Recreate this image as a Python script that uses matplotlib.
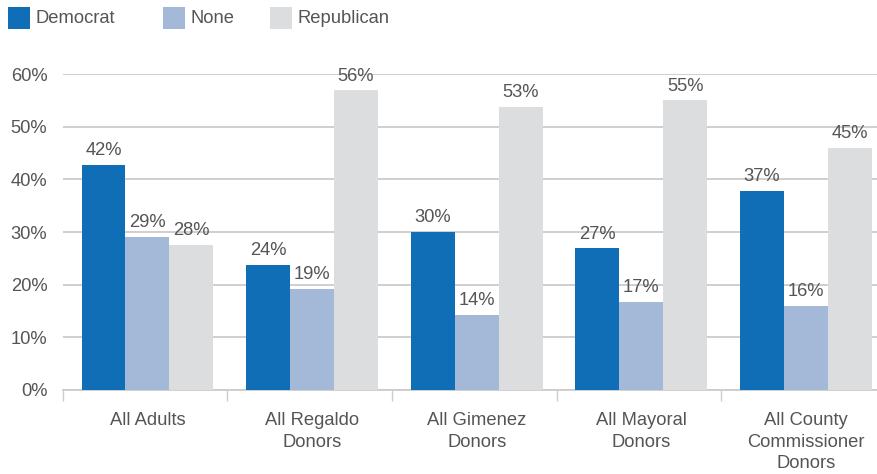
import numpy as np
import matplotlib.pyplot as plt
from matplotlib.patches import Rectangle

plt.rcParams['font.family'] = ['Liberation Sans', 'DejaVu Sans']

categories = ['All Adults', 'All Regaldo\nDonors', 'All Gimenez\nDonors',
              'All Mayoral\nDonors', 'All County\nCommissioner\nDonors']
series = ['Democrat', 'None', 'Republican']
democrat = [42.7, 23.7, 30.0, 26.9, 37.8]
none = [29.0, 19.2, 14.2, 16.7, 15.9]
republican = [27.5, 56.9, 53.7, 55.0, 45.9]
democrat_lbl = ['42%', '24%', '30%', '27%', '37%']
none_lbl = ['29%', '19%', '14%', '17%', '16%']
republican_lbl = ['28%', '56%', '53%', '55%', '45%']
yticks = [0, 10, 20, 30, 40, 50, 60]

colors = ['#106eb7', '#a4b8d8', '#dcdddf']
text_color = '#555555'
grid_color = '#cccccc'
fs = 13.2
W, H = 878, 474

fig = plt.figure(figsize=(W / 100, H / 100), dpi=100)
# axes runs a little past the right edge, as in the reference
ax = fig.add_axes([62.7 / W, (H - 390) / H, 823 / W, (390 - 74) / H])

x = np.arange(len(categories)) + 0.015
w = 0.267
vals = [democrat, none, republican]
lbls = [democrat_lbl, none_lbl, republican_lbl]
for i, (v, l) in enumerate(zip(vals, lbls)):
    pos = x + (i - 1) * w
    ax.bar(pos, v, width=w, color=colors[i], zorder=3)
    for px, pv, pl in zip(pos, v, l):
        ax.text(px, pv + 1.1, pl, ha='center', va='bottom', fontsize=fs,
                color=text_color, zorder=4)

ax.set_xlim(-0.5, len(categories) - 0.5)
ax.set_ylim(0, 60)
ax.set_yticks(yticks)
ax.set_yticklabels([f'{t}%' for t in yticks])
ax.yaxis.grid(True, color=grid_color, linewidth=1.3, zorder=0)
ax.tick_params(axis='y', length=0, pad=11, labelsize=fs, labelcolor=text_color)

ax.set_xticks(x)
ax.set_xticklabels(categories)
ax.tick_params(axis='x', which='major', length=0, pad=16, labelsize=fs,
               labelcolor=text_color)
ax.set_xticks(np.arange(len(categories)) - 0.5, minor=True)
ax.tick_params(axis='x', which='minor', length=8, width=1, color=grid_color)
for lab in ax.get_xticklabels():
    lab.set_linespacing(1.35)

for s in ['top', 'right', 'left']:
    ax.spines[s].set_visible(False)
ax.spines['bottom'].set_color(grid_color)
ax.spines['bottom'].set_linewidth(1.3)

# legend drawn by hand: fixed slots like the original
legend_x = [8, 163, 270]
for lx, c, name in zip(legend_x, colors, series):
    fig.add_artist(Rectangle((lx / W, 1 - 29 / H), 22 / W, 22 / H,
                             transform=fig.transFigure, facecolor=c,
                             edgecolor='none'))
    fig.text((lx + 28) / W, 1 - 18.5 / H, name, ha='left', va='center',
             fontsize=fs, color=text_color)

fig.savefig('out.png', dpi=100)
